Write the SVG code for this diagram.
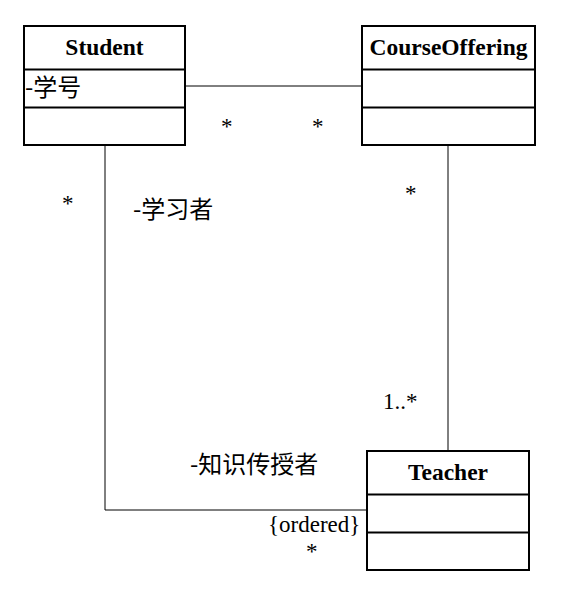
<svg xmlns="http://www.w3.org/2000/svg" width="586" height="613" viewBox="0 0 586 613">
<style>
.box{fill:#fff;stroke:#000;stroke-width:2}
.div{stroke:#000;stroke-width:2}
.title{font-family:"Liberation Serif","Noto Sans CJK SC",serif;font-weight:bold;font-size:23.5px;text-anchor:middle}
.t{font-family:"Liberation Serif","Noto Sans CJK SC",serif;font-size:23px}
.c{font-family:"Noto Sans CJK SC",sans-serif;font-size:24px}
.conn{fill:none;stroke:#000;stroke-width:1}
</style>
<rect width="586" height="613" fill="#fff"/>
<g id="connectors">
<line class="conn" x1="185" y1="86" x2="362" y2="86"/>
<polyline class="conn" points="105,145 105,510 367,510"/>
<line class="conn" x1="448" y1="145" x2="448" y2="451"/>
</g>
<g id="Student">
<rect class="box" x="24" y="26" width="161" height="119"/>
<line class="div" x1="24" y1="69.5" x2="185" y2="69.5"/>
<line class="div" x1="24" y1="107.5" x2="185" y2="107.5"/>
<text class="title" x="104.5" y="55">Student</text>
<text class="c" x="25" y="96">-学号</text>
</g>
<g id="CourseOffering">
<rect class="box" x="362" y="26" width="173" height="119"/>
<line class="div" x1="362" y1="69.5" x2="535" y2="69.5"/>
<line class="div" x1="362" y1="107.5" x2="535" y2="107.5"/>
<text class="title" x="448.5" y="55">CourseOffering</text>
</g>
<g id="Teacher">
<rect class="box" x="367" y="451" width="162" height="119"/>
<line class="div" x1="367" y1="494.5" x2="529" y2="494.5"/>
<line class="div" x1="367" y1="532.5" x2="529" y2="532.5"/>
<text class="title" x="448" y="480">Teacher</text>
</g>
<g id="labels">
<text class="t" x="221" y="134">*</text>
<text class="t" x="312" y="134">*</text>
<text class="t" x="62" y="211">*</text>
<text class="t" x="405" y="201">*</text>
<text class="c" x="133" y="218">-学习者</text>
<text class="t" x="383" y="409">1..*</text>
<text class="c" x="190" y="473">-知识传授者</text>
<text class="t" x="268" y="532">{ordered}</text>
<text class="t" x="306" y="559">*</text>
</g>
</svg>
